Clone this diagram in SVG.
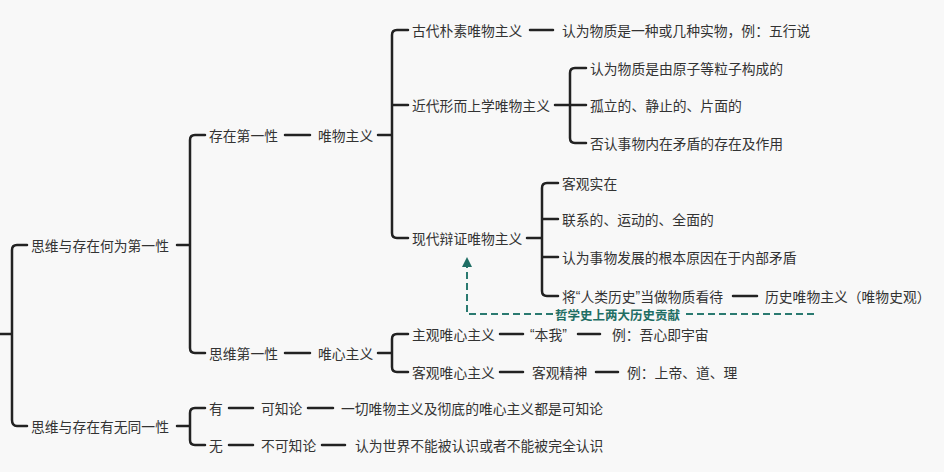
<svg xmlns="http://www.w3.org/2000/svg" width="944" height="472" viewBox="0 0 944 472">
<style>
text{font-family:"Noto Sans CJK SC","Noto Sans",sans-serif;font-size:13.8px;fill:#333;dominant-baseline:central}
.q{font-family:"Liberation Sans",sans-serif}
.l{fill:none;stroke:#222;stroke-width:2.5;stroke-linecap:round}
.d{fill:none;stroke:#2a7a70;stroke-width:2;stroke-dasharray:7 4}
.t{fill:#1f6e64;font-weight:bold;font-size:12.5px}
</style>
<rect width="944" height="472" fill="#f8f8f8"/>
<defs><marker id="ah" viewBox="0 0 10 10" refX="5" refY="5" markerWidth="5" markerHeight="5" orient="auto"><path d="M0,0L10,5L0,10z" fill="#1f6e64"/></marker></defs>
<g id="connectors">
<path class="l" d="M0,334H12M27,245H17Q12,245 12,250V420Q12,426 17,426H27"/>
<path class="l" d="M177,245H190M205,135H195Q190,135 190,140V348Q190,353 195,353H205"/>
<path class="l" d="M285,135H310M378,135H392M408,30H397Q392,30 392,35V233Q392,238 397,238H408M392,105H408"/>
<path class="l" d="M530,30H553"/>
<path class="l" d="M555,105H570M586,68H575Q570,68 570,73V138Q570,143 575,143H586M570,105H586"/>
<path class="l" d="M527,238H542M558,183H547Q542,183 542,188V291Q542,296 547,296H558M542,219H558M542,257H558"/>
<path class="l" d="M733,296H757"/>
<path class="l" d="M285,353H310M378,353H392M408,334H397Q392,334 392,339V367Q392,372 397,372H408"/>
<path class="l" d="M500,334H523M578,334H600M500,372H523M596,372H618"/>
<path class="l" d="M177,426H190M205,408H195Q190,408 190,413V440Q190,445 195,445H205"/>
<path class="l" d="M229,408H253M308,408H333M229,445H253M322,445H345"/>
<path class="d" d="M553,314H467V262" marker-end="url(#ah)"/>
<path class="d" d="M686,314H818"/>
</g>
<g id="n1"><text x="31" y="245">思维与存在何为第一性</text></g>
<g id="n2"><text x="31" y="426">思维与存在有无同一性</text></g>
<g id="n3"><text x="209" y="135">存在第一性</text></g>
<g id="n4"><text x="209" y="353">思维第一性</text></g>
<g id="n5"><text x="318" y="135">唯物主义</text></g>
<g id="n6"><text x="318" y="353">唯心主义</text></g>
<g id="n7"><text x="412" y="30">古代朴素唯物主义</text></g>
<g id="n8"><text x="562" y="30">认为物质是一种或几种实物，例：五行说</text></g>
<g id="n9"><text x="412" y="105">近代形而上学唯物主义</text></g>
<g id="n10"><text x="590" y="68">认为物质是由原子等粒子构成的</text></g>
<g id="n11"><text x="590" y="105">孤立的、静止的、片面的</text></g>
<g id="n12"><text x="590" y="143">否认事物内在矛盾的存在及作用</text></g>
<g id="n13"><text x="412" y="238">现代辩证唯物主义</text></g>
<g id="n14"><text x="562" y="183">客观实在</text></g>
<g id="n15"><text x="562" y="219">联系的、运动的、全面的</text></g>
<g id="n16"><text x="562" y="257">认为事物发展的根本原因在于内部矛盾</text></g>
<g id="n17"><text x="562" y="296">将<tspan class="q">“</tspan>人类历史<tspan class="q">”</tspan>当做物质看待</text></g>
<g id="n18"><text x="765" y="296">历史唯物主义（唯物史观）</text></g>
<g id="n19"><text class="t" x="555" y="314">哲学史上两大历史贡献</text></g>
<g id="n20"><text x="412" y="334">主观唯心主义</text></g>
<g id="n21"><text x="530" y="334"><tspan class="q">“</tspan>本我<tspan class="q">”</tspan></text></g>
<g id="n22"><text x="612" y="334">例：吾心即宇宙</text></g>
<g id="n23"><text x="412" y="372">客观唯心主义</text></g>
<g id="n24"><text x="532" y="372">客观精神</text></g>
<g id="n25"><text x="627" y="372">例：上帝、道、理</text></g>
<g id="n26"><text x="209" y="408">有</text></g>
<g id="n27"><text x="261" y="408">可知论</text></g>
<g id="n28"><text x="341" y="408">一切唯物主义及彻底的唯心主义都是可知论</text></g>
<g id="n29"><text x="209" y="445">无</text></g>
<g id="n30"><text x="261" y="445">不可知论</text></g>
<g id="n31"><text x="355" y="445">认为世界不能被认识或者不能被完全认识</text></g>
</svg>
